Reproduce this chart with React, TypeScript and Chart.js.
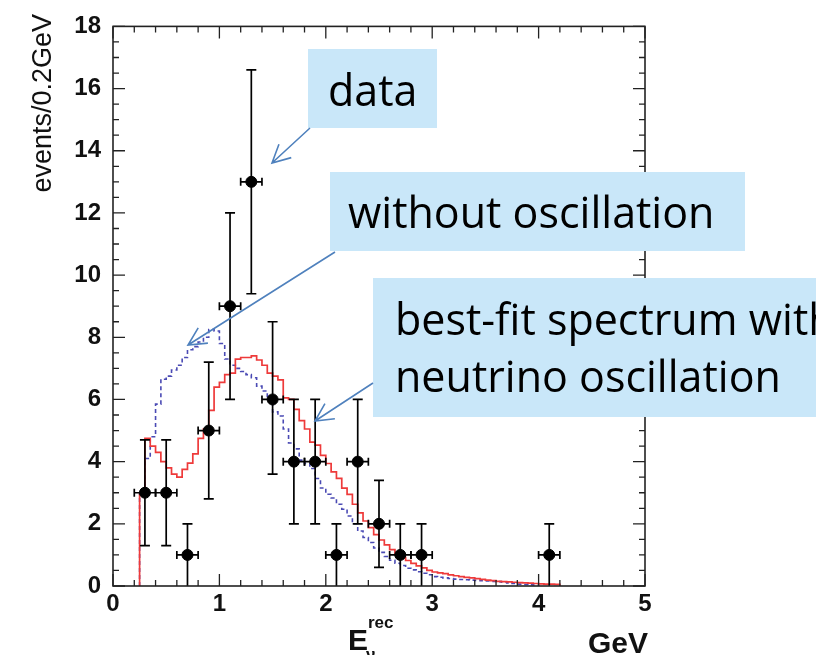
import React, { useEffect, useRef } from "react";
import { Chart, registerables } from "chart.js";
Chart.register(...registerables);

// ---- data ----
const BIN_WIDTH = 0.05;
const RED_START = 0.25; // best-fit spectrum with oscillation
const redValues = [
  3.0, 4.75, 4.5, 4.3, 4.0, 3.8, 3.6, 3.5, 3.75, 3.95,
  4.25, 4.75, 5.05, 5.65, 6.4, 6.55, 6.8, 6.85, 7.3, 7.35,
  7.35, 7.4, 7.27, 7.1, 6.85, 6.75, 6.63, 6.05, 6.0, 5.68,
  5.32, 5.05, 4.63, 4.53, 4.2, 3.94, 3.67, 3.46, 3.15, 2.95,
  2.63, 2.35, 2.09, 1.88, 1.65, 1.48, 1.32, 1.17, 1.03, 0.92,
  0.82, 0.73, 0.65, 0.58, 0.5, 0.45, 0.42, 0.4, 0.36, 0.33,
  0.3, 0.28, 0.26, 0.24, 0.21, 0.19, 0.17, 0.15, 0.14, 0.13,
  0.12, 0.11, 0.1, 0.09, 0.08, 0.07, 0.06, 0.06, 0.05,
];
const BLUE_START = 0.25; // without oscillation
const blueValues = [
  3.0, 4.1, 4.8, 5.85, 6.65, 6.75, 6.95, 7.1, 7.35, 7.6, 7.7,
  7.85, 8.0, 8.25, 8.2, 7.8, 7.3, 7.1, 7.0, 6.9, 6.8,
  6.7, 6.43, 6.27, 6.1, 5.6, 5.47, 5.05, 4.6, 4.41, 4.05,
  3.94, 3.78, 3.46, 3.15, 2.95, 2.83, 2.63, 2.47, 2.25, 2.0,
  1.77, 1.56, 1.4, 1.22, 1.08, 0.95, 0.83, 0.73, 0.66, 0.57,
  0.52, 0.46, 0.41, 0.36, 0.3, 0.28, 0.26, 0.24, 0.22, 0.21,
  0.2, 0.19, 0.18, 0.17, 0.16, 0.15, 0.14, 0.12, 0.1, 0.08,
  0.06, 0.05, 0.04, 0.03,
];
const dataX = [0.3, 0.5, 0.7, 0.9, 1.1, 1.3, 1.5, 1.7, 1.9, 2.1, 2.3, 2.5, 2.7, 2.9, 4.1];
const dataY = [3, 3, 1, 5, 9, 13, 6, 4, 4, 1, 4, 2, 1, 1, 1];
const dataLow = [1.3, 1.3, 0, 2.8, 6.0, 9.4, 3.6, 2.0, 2.0, 0, 2.0, 0.6, 0, 0, 0];
const dataHigh = [4.7, 4.7, 2.0, 7.2, 12.0, 16.6, 8.5, 6.0, 6.0, 2.0, 6.0, 3.4, 2.0, 2.0, 2.0];
const dataXErr = 0.1;
const X_MIN = 0, X_MAX = 5, X_STEP = 1, X_MINOR = 0.2;
const Y_MIN = 0, Y_MAX = 18, Y_STEP = 2, Y_MINOR = 0.5;
const yTitle = "events/0.2GeV";

function histPoints(start: number, values: number[]) {
  const pts = [{ x: start, y: 0 }];
  values.forEach((v, i) => pts.push({ x: +(start + i * BIN_WIDTH).toFixed(3), y: v }));
  pts.push({ x: +(start + values.length * BIN_WIDTH).toFixed(3), y: 0 });
  return pts;
}

// ---- annotation layout (pixels) ----
const BOX_FILL = "#c9e7f9";
const ARROW_COLOR = "#4f81bd";
const ANN_FONT = "43px 'Open Sans'";
const boxes = [
  { x: 308, y: 49, w: 129, h: 79, tx: 328, lines: ["data"], base: [106] },
  { x: 330, y: 172, w: 415, h: 79, tx: 348, lines: ["without oscillation"], base: [228] },
  { x: 373, y: 278, w: 460, h: 139, tx: 395, lines: ["best-fit spectrum with", "neutrino oscillation"], base: [335, 392] },
];
const arrows = [
  { x1: 310, y1: 128, x2: 272, y2: 163 },
  { x1: 335, y1: 252, x2: 188, y2: 345 },
  { x1: 373, y1: 383, x2: 315, y2: 421 },
];

const decorPlugin = {
  id: "decor",
  afterDatasetsDraw(chart: any) {
    const { ctx, chartArea: a, scales } = chart;
    const xs = scales.x, ys = scales.y;
    ctx.save();
    ctx.strokeStyle = "#000";
    ctx.lineWidth = 1.7;
    // error bars
    for (let i = 0; i < dataX.length; i++) {
      const px = xs.getPixelForValue(dataX[i]);
      const py = ys.getPixelForValue(dataY[i]);
      const pl = ys.getPixelForValue(dataLow[i]);
      const ph = ys.getPixelForValue(dataHigh[i]);
      const xl = xs.getPixelForValue(dataX[i] - dataXErr);
      const xh = xs.getPixelForValue(dataX[i] + dataXErr);
      ctx.beginPath();
      ctx.moveTo(px, pl); ctx.lineTo(px, ph);
      ctx.moveTo(px - 5, ph); ctx.lineTo(px + 5, ph);
      if (dataLow[i] > 0) { ctx.moveTo(px - 5, pl); ctx.lineTo(px + 5, pl); }
      ctx.moveTo(xl, py); ctx.lineTo(xh, py);
      ctx.moveTo(xl, py - 4); ctx.lineTo(xl, py + 4);
      ctx.moveTo(xh, py - 4); ctx.lineTo(xh, py + 4);
      ctx.stroke();
    }
    // frame
    ctx.lineWidth = 1.6;
    ctx.strokeStyle = "#222";
    ctx.strokeRect(a.left, a.top, a.right - a.left, a.bottom - a.top);
    ctx.lineWidth = 1.3;
    ctx.beginPath();
    const nx = Math.round((X_MAX - X_MIN) / X_MINOR);
    for (let k = 0; k <= nx; k++) {
      const v = X_MIN + k * X_MINOR;
      const p = xs.getPixelForValue(v);
      const len = k % Math.round(X_STEP / X_MINOR) === 0 ? 12 : 6;
      ctx.moveTo(p, a.bottom); ctx.lineTo(p, a.bottom - len);
      ctx.moveTo(p, a.top); ctx.lineTo(p, a.top + len);
    }
    const ny = Math.round((Y_MAX - Y_MIN) / Y_MINOR);
    for (let k = 0; k <= ny; k++) {
      const v = Y_MIN + k * Y_MINOR;
      const p = ys.getPixelForValue(v);
      const len = k % Math.round(Y_STEP / Y_MINOR) === 0 ? 12 : 6;
      ctx.moveTo(a.left, p); ctx.lineTo(a.left + len, p);
      ctx.moveTo(a.right, p); ctx.lineTo(a.right - len, p);
    }
    ctx.stroke();
    ctx.restore();
  },
  afterDraw(chart: any) {
    const { ctx } = chart;
    ctx.save();
    // y title
    ctx.fillStyle = "#111";
    ctx.font = "27px 'Liberation Sans'";
    ctx.translate(51, 14);
    ctx.rotate(-Math.PI / 2);
    ctx.textAlign = "right";
    ctx.textBaseline = "alphabetic";
    ctx.fillText(yTitle, 0, 0);
    ctx.restore();

    ctx.save();
    ctx.fillStyle = "#111";
    ctx.textBaseline = "alphabetic";
    ctx.font = "bold 30px 'Liberation Sans'";
    ctx.textAlign = "left";
    ctx.fillText("E", 348, 650);
    ctx.font = "bold 17px 'Liberation Sans'";
    ctx.fillText("rec", 368, 628);
    ctx.fillText("\u03bd", 366, 660);
    ctx.font = "bold 30px 'Liberation Sans'";
    ctx.textAlign = "right";
    ctx.fillText("GeV", 648, 653);
    ctx.restore();

    // annotation boxes
    ctx.save();
    for (const b of boxes) {
      ctx.fillStyle = BOX_FILL;
      ctx.fillRect(b.x, b.y, b.w, b.h);
      ctx.fillStyle = "#000";
      ctx.font = ANN_FONT;
      ctx.textAlign = "left";
      ctx.textBaseline = "alphabetic";
      b.lines.forEach((t, i) => ctx.fillText(t, b.tx, b.base[i]));
    }
    ctx.strokeStyle = ARROW_COLOR;
    ctx.lineWidth = 1.6;
    for (const ar of arrows) {
      const ang = Math.atan2(ar.y1 - ar.y2, ar.x1 - ar.x2);
      const L = 20, spread = (27 * Math.PI) / 180;
      ctx.beginPath();
      ctx.moveTo(ar.x1, ar.y1); ctx.lineTo(ar.x2, ar.y2);
      ctx.moveTo(ar.x2 + L * Math.cos(ang + spread), ar.y2 + L * Math.sin(ang + spread));
      ctx.lineTo(ar.x2, ar.y2);
      ctx.lineTo(ar.x2 + L * Math.cos(ang - spread), ar.y2 + L * Math.sin(ang - spread));
      ctx.stroke();
    }
    ctx.restore();
  },
};

export default function App() {
  const ref = useRef<HTMLCanvasElement>(null);
  useEffect(() => {
    if (!ref.current) return;
    const tickFont = { family: "'Liberation Sans'", size: 24, weight: "bold" as const };
    const chart = new Chart(ref.current, {
      type: "scatter",
      data: {
        datasets: [
          {
            label: "data",
            data: dataX.map((x, i) => ({ x, y: dataY[i] })),
            pointRadius: 5.5,
            pointBackgroundColor: "#000",
            pointBorderColor: "#000",
            showLine: false,
          } as any,
          {
            label: "best-fit spectrum with neutrino oscillation",
            data: histPoints(RED_START, redValues),
            showLine: true,
            stepped: true,
            borderColor: "#ee3a3a",
            borderWidth: 1.7,
            pointRadius: 0,
            fill: false,
          } as any,
          {
            label: "without oscillation",
            data: histPoints(BLUE_START, blueValues),
            showLine: true,
            stepped: true,
            borderColor: "#4a4ab4",
            borderWidth: 1.6,
            borderDash: [4, 3],
            pointRadius: 0,
            fill: false,
          } as any,
        ],
      },
      options: {
        animation: false,
        responsive: false,
        maintainAspectRatio: false,
        layout: { padding: { left: 0, right: 171, top: 18, bottom: 0 } },
        plugins: { legend: { display: false }, tooltip: { enabled: false } },
        scales: {
          x: {
            type: "linear",
            min: X_MIN,
            max: X_MAX,
            grid: { display: false, drawTicks: false },
            border: { display: false },
            ticks: { stepSize: X_STEP, font: tickFont, color: "#111", padding: 4, maxRotation: 0 },
            afterFit: (s: any) => { s.height = 69; },
          },
          y: {
            type: "linear",
            min: Y_MIN,
            max: Y_MAX,
            grid: { display: false, drawTicks: false },
            border: { display: false },
            ticks: { stepSize: Y_STEP, font: tickFont, color: "#111", padding: 12 },
            afterFit: (s: any) => { s.width = 113; },
          },
        },
      } as any,
      plugins: [decorPlugin],
    });
    return () => chart.destroy();
  }, []);
  return (
    <div style={{ position: "fixed", left: 0, top: 0, width: 816, height: 655, background: "#fff" }}>
      <canvas ref={ref} width={816} height={655} style={{ display: "block" }} />
    </div>
  );
}
